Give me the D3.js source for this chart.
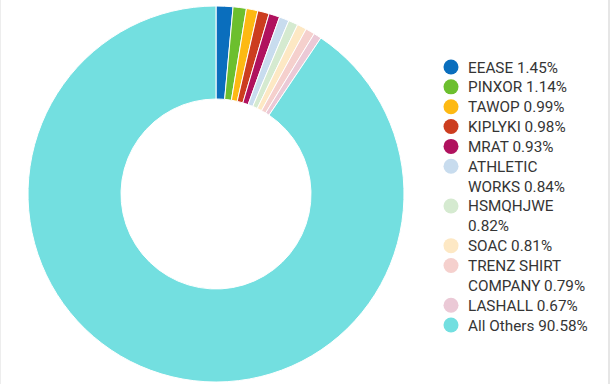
<!DOCTYPE html>
<html>
<head>
<meta charset="utf-8">
<script src="https://cdn.jsdelivr.net/npm/d3@7"></script>
<style>
  html, body { margin: 0; padding: 0; background: #fff; }
  svg { display: block; }
</style>
</head>
<body>
<svg id="chart" width="613" height="384"></svg>
<script>
const names = ["EEASE", "PINXOR", "TAWOP", "KIPLYKI", "MRAT", "ATHLETIC WORKS", "HSMQHJWE", "SOAC", "TRENZ SHIRT COMPANY", "LASHALL", "All Others"];
const shares = [1.45, 1.14, 0.99, 0.98, 0.93, 0.84, 0.82, 0.81, 0.79, 0.67, 90.58];
const colors = ["#0a6ebd", "#6cbf2e", "#fdb913", "#cc3d1f", "#b0125e", "#c8dcee", "#d5ead0", "#fde8c4", "#f5d0cd", "#ebc9d6", "#73dfe0"];

const data = names.map((n, i) => ({ name: n, value: shares[i], color: colors[i] }));

const svg = d3.select("#chart");
const W = 613, H = 384;

// card borders
svg.append("line").attr("x1", 609).attr("x2", 609).attr("y1", 0).attr("y2", H)
  .attr("stroke", "#e6e6e6").attr("stroke-width", 2);
svg.append("line").attr("x1", 0.5).attr("x2", 0.5).attr("y1", 0).attr("y2", H)
  .attr("stroke", "#ededed").attr("stroke-width", 1);

const cx = 216, cy = 194, R = 188, r = 95;
const pie = d3.pie().value(d => d.value).sort(null);
const arc = d3.arc().innerRadius(r).outerRadius(R);

const g = svg.append("g").attr("transform", `translate(${cx},${cy})`);
g.selectAll("path").data(pie(data)).join("path")
  .attr("d", arc)
  .attr("fill", d => d.data.color)
  .attr("stroke", "#fff")
  .attr("stroke-width", 1);

// legend
const lx = 451, tx = 468, y0 = 67, lineH = 19.85, maxW = 122;
const leg = svg.append("g").attr("font-family", "Roboto, 'Open Sans', sans-serif")
  .attr("font-size", 15.3).attr("fill", "#353535");

let line = 0;
data.forEach(d => {
  const y = y0 + line * lineH;
  leg.append("circle").attr("cx", lx).attr("cy", y).attr("r", 7.5).attr("fill", d.color);
  const words = (d.name + " " + d.value.toFixed(2) + "%").split(" ");
  const t = leg.append("text");
  let cur = [];
  let ts = t.append("tspan").attr("x", tx).attr("y", y).attr("dy", "0.36em");
  let n = 0;
  words.forEach(w => {
    cur.push(w);
    ts.text(cur.join(" "));
    if (ts.node().getComputedTextLength() > maxW && cur.length > 1) {
      cur.pop();
      ts.text(cur.join(" "));
      cur = [w];
      n++;
      ts = t.append("tspan").attr("x", tx).attr("y", y + n * lineH).attr("dy", "0.36em").text(w);
    }
  });
  line += n + 1;
});
</script>
</body>
</html>
